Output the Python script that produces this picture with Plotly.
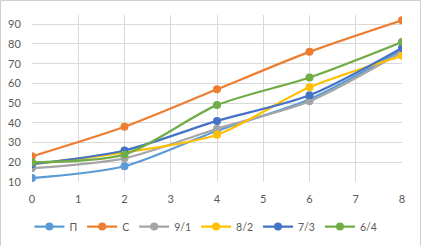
import plotly.graph_objects as go

x_vals = [0, 2, 4, 6, 8]
series_names = ["П", "С", "9/1", "8/2", "7/3", "6/4"]
s_P = [12, 18, 36, 52, 77]
s_C = [23, 38, 57, 76, 92]
s_91 = [17, 22, 37, 51, 76]
s_82 = [19, 25, 34, 58, 74]
s_73 = [19, 26, 41, 54, 78]
s_64 = [20, 24, 49, 63, 81]
colors = ["#5B9BD5", "#ED7D31", "#A5A5A5", "#FFC000", "#4472C4", "#70AD47"]
y_ticks = [10, 20, 30, 40, 50, 60, 70, 80, 90]
x_ticks = [0, 1, 2, 3, 4, 5, 6, 7, 8]

data = [s_P, s_C, s_91, s_82, s_73, s_64]

fig = go.Figure()
for name, ys, c in zip(series_names, data, colors):
    fig.add_trace(go.Scatter(
        x=x_vals, y=ys, name=name, mode="lines+markers",
        line=dict(color=c, width=2.2, shape="spline", smoothing=0.8),
        marker=dict(color=c, size=8),
    ))

font = dict(family="Lato, Carlito, Open Sans, sans-serif", size=11, color="#595959")
lfont = dict(family="Lato, Carlito, Open Sans, sans-serif", size=10.5, color="#595959")

fig.update_layout(
    width=421, height=246, autosize=False,
    margin=dict(l=32, r=19, t=15, b=64, autoexpand=False),
    paper_bgcolor="white", plot_bgcolor="white",
    font=font,
    showlegend=True,
    legend=dict(orientation="h", x=0.47, xanchor="center", y=-0.18, yanchor="top",
                font=lfont, itemwidth=30, tracegroupgap=0),
    xaxis=dict(range=[0, 8], tickvals=x_ticks, showgrid=True, gridcolor="#D9D9D9",
               gridwidth=1, zeroline=False, showline=False, ticks="outside",
               ticklen=7, tickcolor="rgba(0,0,0,0)", automargin=False),
    yaxis=dict(range=[10, 94.7], tickvals=y_ticks, showgrid=True, gridcolor="#D9D9D9",
               gridwidth=1, zeroline=False, showline=False, ticks="outside",
               ticklen=8, tickcolor="rgba(0,0,0,0)", automargin=False),
    shapes=[dict(type="rect", xref="paper", yref="paper",
                 x0=(0.5 - 32) / 370, x1=(420.5 - 32) / 370,
                 y0=(167 - 245.5 + 0) / 167, y1=(167 + 14.5) / 167,
                 line=dict(color="#D0D0D0", width=1), fillcolor="rgba(0,0,0,0)",
                 layer="above")],
)

fig.write_html("out.html", config={"displayModeBar": False},
               post_script="document.body.style.margin='0';")
